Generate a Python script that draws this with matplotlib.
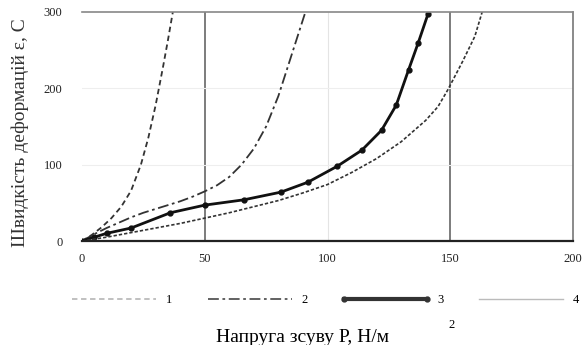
import matplotlib
matplotlib.use("Agg")
import matplotlib.pyplot as plt

plt.rcParams['font.family'] = ['Liberation Serif', 'DejaVu Serif']

# Series 1 (dashed)
x1 = [0, 4, 8, 12, 16, 20, 24, 27, 30, 33, 35, 37]
y1 = [0, 8, 18, 30, 45, 66, 100, 135, 178, 228, 263, 300]
# Series 2 (dash-dot)
x2 = [0, 5, 10, 15, 20, 25, 30, 35, 40, 45, 50, 55, 60, 65, 70, 75, 80, 85, 88, 91]
y2 = [0, 9, 17, 24, 31, 37, 42, 47, 52, 58, 65, 73, 84, 100, 121, 150, 190, 240, 270, 300]
# Series 3 (markers)
x3 = [0, 5, 10, 20, 36, 50, 66, 81, 92, 104, 114, 122, 128, 133, 137, 141]
y3 = [0, 5, 10, 17, 37, 47, 54, 64, 77, 98, 119, 145, 178, 224, 260, 298]
# Series 4 (thin solid)
x4 = [0, 10, 20, 30, 40, 50, 60, 70, 80, 90, 100, 110, 120, 130, 140, 145, 149, 155, 160, 163]
y4 = [0, 5, 11, 17, 23, 30, 37, 45, 53, 63, 74, 90, 108, 130, 158, 176, 198, 235, 268, 300]

labels = ["1", "2", "3", "4"]
xticks = [0, 50, 100, 150, 200]
yticks = [0, 100, 200, 300]
xlabel = "Напруга зсуву Р, Н/м"
ylabel = "Швидкість деформацій ε, С"

fig = plt.figure(figsize=(5.87, 3.45), dpi=100)
ax = fig.add_axes([82/587, 1-241/345, (573-82)/587, (241-12)/345])

ax.set_xlim(0, 200)
ax.set_ylim(0, 300)

# grid
for gx in [100]:
    ax.axvline(gx, color='#e4e4e4', lw=0.8, zorder=0)
for gx in [50, 150]:
    ax.axvline(gx, color='#666666', lw=1.2, zorder=0)
for gy in [100, 200]:
    ax.axhline(gy, color='#eeeeee', lw=0.8, zorder=0)

l1, = ax.plot(x1, y1, color='#333333', lw=1.3, ls=(0, (3, 2)), label=labels[0])
l2, = ax.plot(x2, y2, color='#333333', lw=1.3, ls=(0, (6, 2, 1.5, 2)), label=labels[1])
l3, = ax.plot(x3, y3, color='#111111', lw=2.0, marker='o', ms=3.5, label=labels[2])
l4, = ax.plot(x4, y4, color='#333333', lw=1.2, ls=(0, (2, 1.2)), label=labels[3])

ax.set_xticks(xticks)
ax.set_yticks(yticks)
ax.tick_params(length=0, labelsize=9, pad=9, colors='#222222')
ax.tick_params(axis='y', pad=14)

ax.spines['left'].set_visible(False)
ax.spines['bottom'].set_color('#222222')
ax.spines['bottom'].set_linewidth(1.6)
ax.spines['top'].set_color('#888888')
ax.spines['top'].set_linewidth(1.2)
ax.spines['right'].set_color('#777777')
ax.spines['right'].set_linewidth(1.2)

leg = fig.legend(handles=[l1, l2, l3, l4], labels=labels, loc='center',
                 bbox_to_anchor=(324/587, 1-300/345), ncol=4, frameon=False,
                 fontsize=9, handlelength=7.3, handletextpad=0.5,
                 columnspacing=2.55, numpoints=2, borderpad=0, borderaxespad=0)
for h, c in zip(leg.get_lines(), ['#bbbbbb', '#555555', '#333333', '#bbbbbb']):
    h.set_color(c)
leg.get_lines()[3].set_linestyle('-')
leg.get_lines()[3].set_linewidth(1.0)
leg.get_lines()[2].set_linewidth(3.0)

fig.text(302/587, 1-337/345, xlabel, ha='center', va='center', fontsize=14)
fig.text(452/587, 1-325/345, "2", ha='center', va='center', fontsize=9)
fig.text(20/587, 1-133/345, ylabel, ha='center', va='center', rotation=90,
         fontsize=14, color='#333333')

fig.savefig("out.png", dpi=100)
